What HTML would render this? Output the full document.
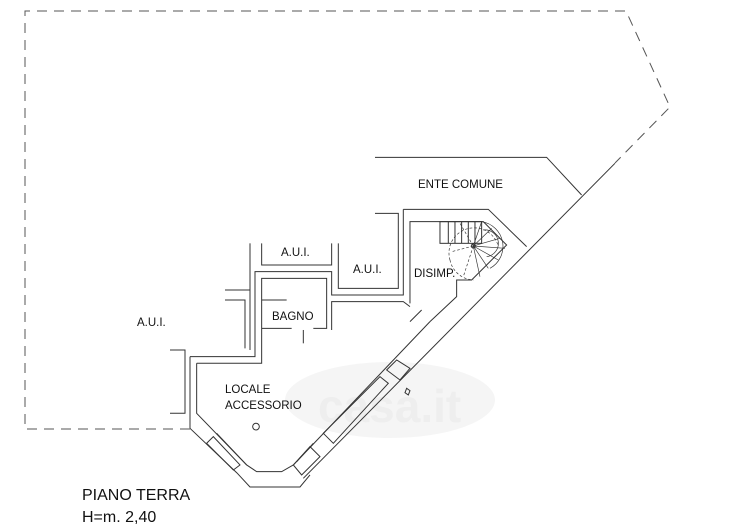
<!DOCTYPE html>
<html><head><meta charset="utf-8"><style>
html,body{margin:0;padding:0;background:#fff;}
svg{display:block;}
text{font-family:"Liberation Sans",Arial,sans-serif;fill:#111;}
</style></head><body>
<svg width="738" height="530" viewBox="0 0 738 530" xmlns="http://www.w3.org/2000/svg">
<rect width="738" height="530" fill="#fff"/>
<ellipse cx="390" cy="400" rx="105" ry="38" fill="#f5f5f5"/>
<text x="318" y="422" font-size="46" font-weight="bold" style="fill:#eeeeee">casa.it</text>
<g fill="none" stroke="#555" stroke-width="1" stroke-dasharray="10,7">
<polyline points="190,429 25,429 25,11 626,11 670,107 615,163"/>
</g>
<g transform="translate(170,150) scale(0.3333)" fill="none" stroke="#333" stroke-width="3">
<polyline points="615,22 1130,22 1235,135"/>
<line x1="1335" y1="40" x2="400" y2="985"/>
<polyline points="700,178 955,178 1070,290"/>
<polyline points="720,460 720,215 940,215 1010,285 905,390 860,390 860,440 780,515"/>
<line x1="780" y1="515" x2="370" y2="945"/>
<polyline points="80,640 80,790 230,945 260,965 335,965 370,945"/>
<polyline points="60,835 201,969 240,1011 390,1011 420,975"/>
<line x1="60" y1="835" x2="60" y2="620"/>
<polyline points="60,620 255,620 255,365 485,365 485,435 700,435 700,178"/>
<polyline points="615,190 685,190 685,415 505,415 505,280"/>
<polyline points="80,640 275,640 275,385 470,385 470,535 430,535"/>
<polyline points="275,450 350,450"/>
<polyline points="275,535 365,535"/>
<line x1="400" y1="540" x2="400" y2="580"/>
<polyline points="485,540 485,455 700,455 720,470"/>
<polyline points="275,280 275,345 485,345 485,280"/>
<line x1="240" y1="280" x2="240" y2="600"/>
<polyline points="165,420 240,420"/>
<polyline points="165,450 225,450 225,595"/>
<polyline points="0,600 45,600 45,790 0,790"/>
<line x1="720" y1="515" x2="755" y2="480"/>
<polygon points="680,630 720,655 690,690 650,660"/>
<polygon points="630,680 655,700 490,880 460,850"/>
<polygon points="130,860 210,945 190,960 110,880"/>
<polygon points="420,890 450,920 395,975 370,945"/>
<line x1="140" y1="850" x2="230" y2="945"/>
<line x1="430" y1="880" x2="380" y2="935"/>
<circle cx="258" cy="830" r="10"/>
<polygon points="710,715 720,722 715,735 705,728"/>
<rect x="810" y="215" width="125" height="65"/>
<line x1="835" y1="215" x2="835" y2="280"/>
<line x1="855" y1="215" x2="855" y2="280"/>
<line x1="875" y1="215" x2="875" y2="280"/>
<line x1="895" y1="215" x2="895" y2="280"/>
<line x1="915" y1="215" x2="915" y2="280"/>
<g stroke-width="2">
<line x1="910" y1="288" x2="935" y2="215"/>
<line x1="910" y1="288" x2="965" y2="235"/>
<line x1="910" y1="288" x2="990" y2="265"/>
<line x1="910" y1="288" x2="1005" y2="295"/>
<line x1="910" y1="288" x2="985" y2="330"/>
<line x1="910" y1="288" x2="955" y2="355"/>
<line x1="910" y1="288" x2="930" y2="380"/>
<path d="M935,215 A75,75 0 0 1 960,355"/>
<path d="M940,240 A40,40 0 0 1 950,320"/>
</g>
<g stroke-dasharray="8,6" stroke-width="2">
<path d="M840,330 A75,75 0 0 1 985,288"/>
<path d="M840,330 A75,75 0 0 0 910,390"/>
<line x1="910" y1="288" x2="845" y2="305"/>
<line x1="910" y1="288" x2="880" y2="380"/>
<line x1="910" y1="288" x2="870" y2="220"/>
</g>
<circle cx="910" cy="288" r="6"/>
</g>
<g font-size="11.5">
<text x="418" y="188">ENTE COMUNE</text>
<text x="281" y="256">A.U.I.</text>
<text x="353" y="273">A.U.I.</text>
<text x="137" y="326">A.U.I.</text>
<text x="414" y="277">DISIMP.</text>
<text x="272" y="320">BAGNO</text>
<text x="225" y="393">LOCALE</text>
<text x="225" y="409">ACCESSORIO</text>
</g>
<text x="82" y="500" font-size="16">PIANO TERRA</text>
<text x="82" y="522" font-size="16">H=m. 2,40</text>
</svg>
</body></html>
